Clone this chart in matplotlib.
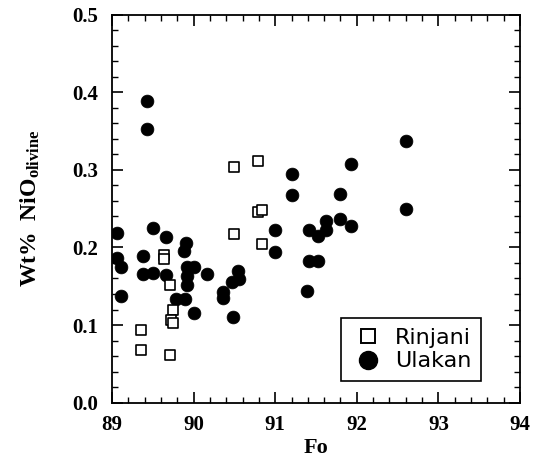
import matplotlib
matplotlib.use("Agg")
import matplotlib.pyplot as plt
from matplotlib.lines import Line2D
from matplotlib.ticker import MultipleLocator

plt.rcParams['mathtext.fontset'] = 'custom'
plt.rcParams['mathtext.rm'] = 'Liberation Serif:bold'
plt.rcParams['mathtext.bf'] = 'Liberation Serif:bold'
plt.rcParams['mathtext.it'] = 'Liberation Serif:bold'

# Rinjani (open squares)
rinjani_fo = [89.64, 89.64, 89.71, 89.75, 89.72, 89.75, 89.35, 89.35, 89.71,
              90.49, 90.49, 90.79, 90.79, 90.84, 90.84]
rinjani_ni = [0.190, 0.185, 0.151, 0.119, 0.106, 0.103, 0.094, 0.068, 0.061,
              0.217, 0.304, 0.311, 0.246, 0.248, 0.205]

# Ulakan (filled circles)
ulakan_fo = [89.065, 89.065, 89.106, 89.106, 89.384, 89.506, 89.376, 89.506,
             89.66, 89.66, 89.907, 89.88, 89.915, 90.01, 89.915, 89.915,
             90.16, 89.79, 89.89, 90.005, 90.357, 90.357, 90.48, 90.47,
             90.55, 90.56, 89.43, 89.43,
             91.21, 91.21, 91.0, 91.0, 91.41, 91.53, 91.62, 91.62, 91.80,
             91.80, 91.93, 91.93, 91.41, 91.53, 91.39, 92.60, 92.60]
ulakan_ni = [0.218, 0.187, 0.175, 0.138, 0.189, 0.225, 0.166, 0.167,
             0.213, 0.164, 0.206, 0.195, 0.175, 0.175, 0.163, 0.151,
             0.166, 0.133, 0.133, 0.115, 0.143, 0.135, 0.110, 0.155,
             0.169, 0.159, 0.388, 0.353,
             0.294, 0.268, 0.222, 0.194, 0.222, 0.215, 0.234, 0.223, 0.269,
             0.236, 0.308, 0.227, 0.182, 0.183, 0.144, 0.337, 0.250]

x_ticks = [89, 90, 91, 92, 93, 94]
y_ticks = [0.0, 0.1, 0.2, 0.3, 0.4, 0.5]

fig = plt.figure(figsize=(5.4, 4.61), dpi=100)
ax = fig.add_axes([0.2074, 0.1265, 0.7556, 0.842])

ax.scatter(ulakan_fo, ulakan_ni, s=85, marker='o', facecolor='black',
           edgecolor='black', linewidths=0.5, zorder=3)
ax.scatter(rinjani_fo, rinjani_ni, s=60, marker='s', facecolor='white',
           edgecolor='black', linewidths=1.2, zorder=4)

ax.set_xlim(89, 94)
ax.set_ylim(0, 0.5)
ax.set_xticks(x_ticks)
ax.set_yticks(y_ticks)
ax.set_xticklabels([str(v) for v in x_ticks])
ax.set_yticklabels([f"{v:.1f}" for v in y_ticks])
ax.xaxis.set_minor_locator(MultipleLocator(0.2))
ax.yaxis.set_minor_locator(MultipleLocator(0.02))
ax.tick_params(which='both', direction='in', top=True, right=True, color='black')
ax.tick_params(which='major', length=8, width=1.2)
ax.tick_params(which='minor', length=4, width=1.0)
ax.tick_params(axis='x', which='major', pad=9)
ax.tick_params(axis='y', which='major', pad=10)
for lab in ax.get_xticklabels() + ax.get_yticklabels():
    lab.set_family('Liberation Serif')
    lab.set_fontweight('bold')
    lab.set_fontsize(15)
for sp in ax.spines.values():
    sp.set_linewidth(1.3)

ax.set_xlabel('Fo', fontfamily='Liberation Serif', fontweight='bold',
              fontsize=16)
ax.xaxis.set_label_coords(0.5, -0.092)
ax.set_ylabel(r'Wt%  NiO$_{\mathrm{olivine}}$', fontfamily='Liberation Serif',
              fontweight='bold', fontsize=17)
ax.yaxis.set_label_coords(-0.172, 0.5)

handles = [Line2D([], [], linestyle='none', marker='s', markersize=10,
                  markerfacecolor='white', markeredgecolor='black',
                  markeredgewidth=1.4),
           Line2D([], [], linestyle='none', marker='o', markersize=13,
                  markerfacecolor='black', markeredgecolor='black')]
leg = ax.legend(handles, ['Rinjani', 'Ulakan'], loc='upper left',
                bbox_to_anchor=(0.561, 0.218), frameon=True, fancybox=False,
                prop={'family': 'DejaVu Sans', 'size': 16},
                handletextpad=0.45, borderpad=0.45, labelspacing=0.15,
                handlelength=1.53, borderaxespad=0.0)
leg.get_frame().set_edgecolor('black')
leg.get_frame().set_linewidth(1.2)
leg.get_frame().set_alpha(1)

fig.savefig('out.png', dpi=100)
